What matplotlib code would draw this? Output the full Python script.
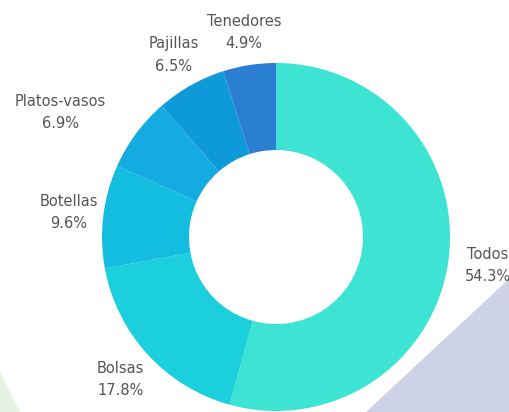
import numpy as np
import matplotlib.pyplot as plt
from matplotlib.patches import Circle, Polygon

categories = ['Todos', 'Bolsas', 'Botellas', 'Platos-vasos', 'Pajillas', 'Tenedores']
shares = [54.3, 17.8, 9.6, 6.9, 6.5, 4.9]
colors = ['#3de3d3', '#1ccfdc', '#12bde0', '#14abe0', '#0e9ad9', '#2a7fd2']

# label placement: distance from centre (in radii) and angular nudge (degrees)
label_dist = [1.23, 1.21, 1.20, 1.43, 1.20, 1.19]
label_nudge = [0, 0, 0, 6.5, 0, 0]

W, H = 510, 412
fig = plt.figure(figsize=(W / 100, H / 100), dpi=100)
ax = fig.add_axes([0, 0, 1, 1])

# faint background shapes
ax.add_patch(Polygon([(510, 412 - 278), (510, 0), (366, 0)], closed=True,
                     facecolor='#cdd2e6', edgecolor='none', zorder=0))
ax.add_patch(Polygon([(0, 412 - 372), (20, 0), (0, 0)], closed=True,
                     facecolor='#e6f2e1', edgecolor='none', zorder=0))

cx, cy, R = 276, 412 - 237, 174
ax.add_patch(Circle((cx, cy), R + 9, facecolor='white', edgecolor='none', zorder=1))

wedges, _ = ax.pie(shares, colors=colors, startangle=90, counterclock=False,
                   center=(cx, cy), radius=R, frame=True,
                   wedgeprops=dict(width=R * 0.5, edgecolor='none', zorder=2))
ax.set_xlim(0, W)
ax.set_ylim(0, H)
ax.set_aspect('equal')
ax.axis('off')

for w, name, val, d, nudge in zip(wedges, categories, shares, label_dist, label_nudge):
    ang = np.deg2rad((w.theta1 + w.theta2) / 2 + nudge)
    x = cx + R * d * np.cos(ang)
    y = cy + R * d * np.sin(ang)
    ax.text(x, y, f'{name}\n{val}%', ha='center', va='center', fontsize=10.5,
            color='#555555', linespacing=1.6, family='DejaVu Sans', zorder=3)

fig.savefig('out.png', dpi=100)
